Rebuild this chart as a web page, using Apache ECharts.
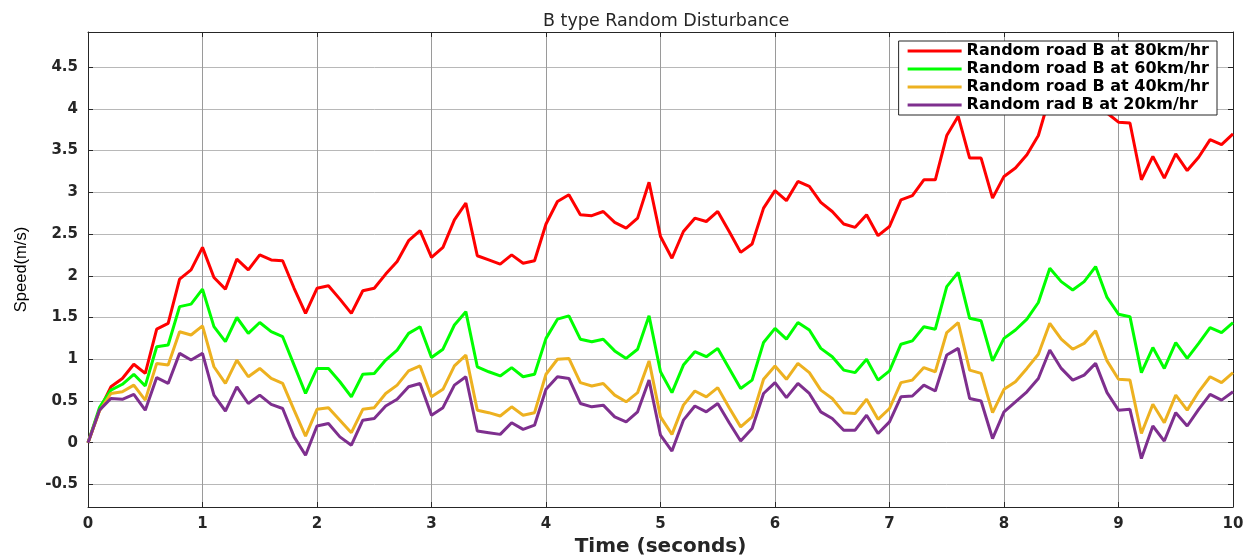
<!DOCTYPE html>
<html>
<head>
<meta charset="utf-8">
<script src="https://cdn.jsdelivr.net/npm/echarts@6/dist/echarts.min.js"></script>
<style>
  html, body { margin: 0; padding: 0; background: #fff; }
  #chart { width: 1259px; height: 557px; }
</style>
</head>
<body>
<div id="chart"></div>
<script>
var seriesNames = ['Random road B at 80km/hr', 'Random road B at 60km/hr', 'Random road B at 40km/hr', 'Random rad B at 20km/hr'];
var yTicks = [-0.5, 0, 0.5, 1, 1.5, 2, 2.5, 3, 3.5, 4, 4.5];

// samples every 0.1 s from 0 to 10 s
var times = [];
for (var i = 0; i <= 100; i++) times.push(i / 10);

var road80 = [0, 0.39, 0.67, 0.77, 0.94, 0.83, 1.36, 1.43, 1.96, 2.07, 2.34,
  1.98, 1.84, 2.20, 2.07, 2.25, 2.19, 2.18, 1.85, 1.55, 1.85,
  1.88, 1.72, 1.55, 1.82, 1.85, 2.02, 2.17, 2.42, 2.54, 2.22,
  2.34, 2.67, 2.87, 2.24, 2.19, 2.14, 2.25, 2.15, 2.18, 2.62,
  2.89, 2.97, 2.73, 2.72, 2.77, 2.64, 2.57, 2.69, 3.12, 2.47,
  2.21, 2.53, 2.69, 2.65, 2.77, 2.53, 2.28, 2.38, 2.81, 3.02,
  2.90, 3.13, 3.07, 2.88, 2.77, 2.62, 2.58, 2.73, 2.48, 2.59,
  2.91, 2.96, 3.15, 3.15, 3.68, 3.91, 3.41, 3.41, 2.93, 3.19,
  3.29, 3.45, 3.68, 4.15, 4.02, 3.98, 4.05, 4.20, 3.95, 3.84,
  3.83, 3.15, 3.43, 3.17, 3.46, 3.26, 3.42, 3.63, 3.57, 3.70];

var road60 = [0, 0.42, 0.63, 0.70, 0.82, 0.68, 1.15, 1.17, 1.63, 1.66, 1.84,
  1.39, 1.21, 1.50, 1.31, 1.44, 1.33, 1.27, 0.93, 0.59, 0.89,
  0.89, 0.73, 0.55, 0.82, 0.83, 0.99, 1.11, 1.31, 1.39, 1.02,
  1.12, 1.41, 1.57, 0.91, 0.85, 0.80, 0.90, 0.79, 0.82, 1.25,
  1.48, 1.52, 1.24, 1.21, 1.24, 1.10, 1.01, 1.12, 1.52, 0.85,
  0.60, 0.93, 1.09, 1.03, 1.13, 0.89, 0.65, 0.75, 1.20, 1.37,
  1.24, 1.44, 1.35, 1.13, 1.03, 0.87, 0.84, 1.00, 0.75, 0.86,
  1.18, 1.22, 1.39, 1.36, 1.87, 2.04, 1.49, 1.46, 0.98, 1.25,
  1.35, 1.48, 1.68, 2.09, 1.93, 1.83, 1.93, 2.11, 1.74, 1.54,
  1.51, 0.84, 1.14, 0.89, 1.20, 1.01, 1.19, 1.38, 1.32, 1.44];

var road40 = [0, 0.38, 0.59, 0.61, 0.69, 0.51, 0.95, 0.93, 1.33, 1.29, 1.40,
  0.91, 0.71, 0.99, 0.79, 0.89, 0.77, 0.71, 0.39, 0.08, 0.40,
  0.42, 0.27, 0.12, 0.40, 0.42, 0.59, 0.69, 0.86, 0.92, 0.55,
  0.64, 0.92, 1.05, 0.39, 0.36, 0.32, 0.43, 0.33, 0.36, 0.82,
  1.00, 1.01, 0.72, 0.68, 0.71, 0.57, 0.49, 0.60, 0.98, 0.31,
  0.10, 0.45, 0.62, 0.55, 0.66, 0.42, 0.19, 0.31, 0.76, 0.92,
  0.76, 0.95, 0.84, 0.63, 0.53, 0.36, 0.35, 0.52, 0.28, 0.41,
  0.72, 0.75, 0.90, 0.85, 1.32, 1.44, 0.87, 0.83, 0.36, 0.64,
  0.73, 0.89, 1.06, 1.43, 1.24, 1.12, 1.19, 1.34, 0.98, 0.76,
  0.75, 0.11, 0.46, 0.24, 0.57, 0.39, 0.61, 0.79, 0.72, 0.84];

var road20 = [0, 0.39, 0.53, 0.52, 0.58, 0.39, 0.78, 0.71, 1.07, 0.99, 1.07,
  0.57, 0.38, 0.67, 0.47, 0.57, 0.46, 0.41, 0.07, -0.15, 0.20,
  0.23, 0.07, -0.03, 0.27, 0.29, 0.44, 0.52, 0.67, 0.71, 0.33,
  0.42, 0.69, 0.79, 0.14, 0.12, 0.10, 0.24, 0.16, 0.21, 0.64,
  0.79, 0.77, 0.47, 0.43, 0.45, 0.31, 0.25, 0.37, 0.75, 0.09,
  -0.10, 0.27, 0.44, 0.37, 0.47, 0.24, 0.02, 0.17, 0.59, 0.72,
  0.54, 0.71, 0.59, 0.37, 0.29, 0.15, 0.15, 0.33, 0.11, 0.25,
  0.55, 0.56, 0.69, 0.62, 1.05, 1.13, 0.53, 0.50, 0.05, 0.37,
  0.49, 0.61, 0.77, 1.11, 0.89, 0.75, 0.81, 0.95, 0.60, 0.39,
  0.40, -0.19, 0.20, 0.02, 0.36, 0.20, 0.40, 0.58, 0.51, 0.61];

(function() {
  var ink = '#262626';
  var wide = 'DejaVu Sans, Verdana, sans-serif';
  var narrow = 'Liberation Sans, Arial, sans-serif';
  var colors = ['#ff0000', '#00ff00', '#edb120', '#7e2f8e'];
  var allData = [road80, road60, road40, road20];

  function pairs(values) {
    return times.map(function(t, i) { return [t, values[i]]; });
  }

  var chart = echarts.init(document.getElementById('chart'), null, { renderer: 'canvas' });

  function tickLabel(margin) {
    return { color: ink, fontFamily: wide, fontSize: 15, fontWeight: 'bold', margin: margin };
  }

  chart.setOption({
    animation: false,
    backgroundColor: '#fff',
    title: {
      text: 'B type Random Disturbance',
      left: 538,
      top: 7,
      textStyle: { color: ink, fontFamily: wide, fontSize: 17.5, fontWeight: 'normal' }
    },
    grid: { left: 88, right: 26, top: 32, bottom: 50, outerBoundsMode: 'none' },
    legend: {
      orient: 'vertical',
      right: 42,
      top: 41,
      padding: [2, 8, 2, 9],
      itemGap: 2,
      itemWidth: 54,
      itemHeight: 3,
      icon: 'rect',
      backgroundColor: '#fff',
      borderColor: ink,
      borderWidth: 1,
      borderRadius: 0,
      textStyle: { color: '#000', fontFamily: wide, fontSize: 16, fontWeight: 'bold' },
      data: seriesNames
    },
    xAxis: [{
      type: 'value',
      min: 0,
      max: 10,
      interval: 1,
      name: 'Time (seconds)',
      nameLocation: 'middle',
      nameGap: 27,
      nameTextStyle: { color: ink, fontFamily: wide, fontSize: 20, fontWeight: 'bold' },
      axisLine: { show: true, onZero: false, lineStyle: { color: ink, width: 1 } },
      axisTick: { show: true, inside: true, length: 5, lineStyle: { color: ink } },
      axisLabel: tickLabel(10),
      splitLine: { show: true, lineStyle: { color: '#9a9a9a', width: 1 } }
    }, {
      type: 'value',
      position: 'top',
      min: 0,
      max: 10,
      interval: 1,
      axisLine: { show: true, onZero: false, lineStyle: { color: ink, width: 1 } },
      axisTick: { show: true, inside: true, length: 5, lineStyle: { color: ink } },
      axisLabel: { show: false },
      splitLine: { show: false }
    }],
    yAxis: [{
      type: 'value',
      min: -0.77,
      max: 4.92,
      name: 'Speed(m/s)',
      nameLocation: 'middle',
      nameGap: 58,
      nameTextStyle: { color: '#000', fontFamily: narrow, fontSize: 16.5 },
      axisLine: { show: true, onZero: false, lineStyle: { color: ink, width: 1 } },
      axisTick: { show: true, inside: true, length: 5, customValues: yTicks, lineStyle: { color: ink } },
      axisLabel: Object.assign({ customValues: yTicks }, tickLabel(10)),
      splitLine: { show: true, lineStyle: { color: '#b8b8b8', width: 1 } }
    }, {
      type: 'value',
      position: 'right',
      min: -0.77,
      max: 4.92,
      axisLine: { show: true, onZero: false, lineStyle: { color: ink, width: 1 } },
      axisTick: { show: true, inside: true, length: 5, customValues: yTicks, lineStyle: { color: ink } },
      axisLabel: { show: false, customValues: yTicks },
      splitLine: { show: false }
    }],
    series: seriesNames.map(function(name, k) {
      return {
        name: name,
        type: 'line',
        data: pairs(allData[k]),
        symbol: 'none',
        color: colors[k],
        lineStyle: { width: 3, color: colors[k] },
        z: 2 + k
      };
    })
  });

  window.addEventListener('resize', function() { chart.resize(); });
})();
</script>
</body>
</html>
